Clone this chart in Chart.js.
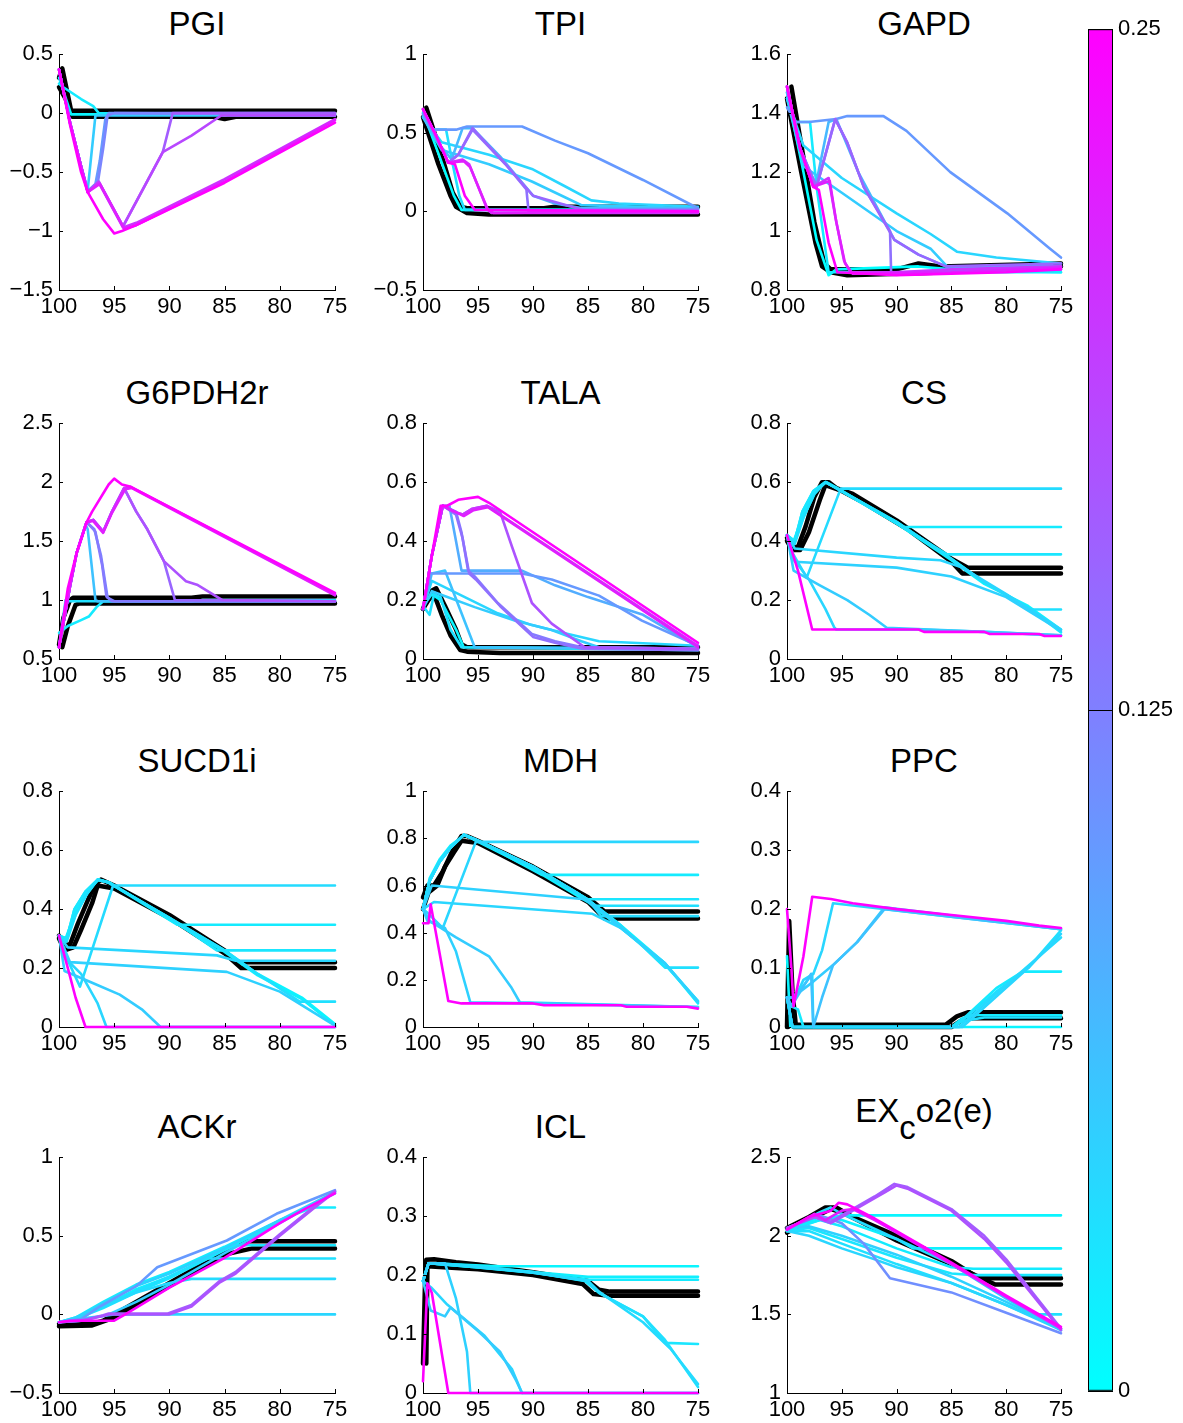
<!DOCTYPE html>
<html lang="en">
<head>
<meta charset="UTF-8">
<title>Flux profiles</title>
<script src="https://cdn.jsdelivr.net/npm/chart.js"></script>
<style>
  body {
    margin: 0;
    background: #fff;
    width: 1183px;
    height: 1423px;
    position: relative;
    overflow: hidden;
    font-family: 'Liberation Sans', Arial, Helvetica, sans-serif;
  }
  canvas { position: absolute; }
  .title {
    position: absolute;
    text-align: center;
    font-size: 33px;
    line-height: 38px;
    height: 38px;
    color: #000;
    white-space: nowrap;
  }
  .title sub { font-size: 33px; vertical-align: -17px; line-height: 0; }
</style>
</head>
<body>
<script>
// ---- data (c = colour value on the colour bar, null = reference run in black) ----
const xTicks = [100, 95, 90, 85, 80, 75];
const cbTicks = [0, 0.125, 0.25];
const panelTitles = ['PGI', 'TPI', 'GAPD', 'G6PDH2r', 'TALA', 'CS', 'SUCD1i', 'MDH', 'PPC', 'ACKr', 'ICL', 'EX_co2(e)'];
const yTickSets = [
  [-1.5, -1, -0.5, 0, 0.5],
  [-0.5, 0, 0.5, 1],
  [0.8, 1, 1.2, 1.4, 1.6],
  [0.5, 1, 1.5, 2, 2.5],
  [0, 0.2, 0.4, 0.6, 0.8],
  [0, 0.2, 0.4, 0.6, 0.8],
  [0, 0.2, 0.4, 0.6, 0.8],
  [0, 0.2, 0.4, 0.6, 0.8, 1],
  [0, 0.1, 0.2, 0.3, 0.4],
  [-0.5, 0, 0.5, 1],
  [0, 0.1, 0.2, 0.3, 0.4],
  [1, 1.5, 2, 2.5]
];

const pgiLines = [
  {c: null, p: [[100,0.3],[99.7,0.38],[98.9,0.02],[75,0.02]]},
  {c: null, p: [[100,0.22],[99.4,0.12],[98.8,-0.03],[86,-0.03],[85,-0.05],[84,-0.03],[75,-0.03]]},
  {c: 0.01, p: [[100,0.3],[98.9,-0.01],[75,-0.01]]},
  {c: 0.02, p: [[100,0.25],[99.6,0.22],[98,0.12],[96.9,0.06],[96.4,0.0],[88,-0.01],[75,-0.02]]},
  {c: 0.05, p: [[100,0.37],[99,-0.08],[98,-0.45],[97.4,-0.65],[96.7,-0.02],[75,-0.02]]},
  {c: 0.10, p: [[100,0.37],[99,-0.08],[98,-0.45],[97.4,-0.66],[96.7,-0.6],[96.3,-0.4],[95.8,-0.05],[95.5,0.0],[75,0.0]]},
  {c: 0.12, p: [[100,0.37],[99,-0.08],[98,-0.45],[97.4,-0.66],[96.5,-0.6],[96,-0.3],[95.6,-0.02],[95,0.0],[75,-0.01]]},
  {c: 0.16, p: [[100,0.37],[99,-0.08],[98,-0.45],[97.4,-0.67],[96.4,-0.58],[94.2,-0.96],[90.6,-0.33],[89.7,0.0],[75,0.0]]},
  {c: 0.18, p: [[100,0.37],[99,-0.08],[98,-0.45],[97.4,-0.67],[96.4,-0.58],[94.2,-0.96],[90.6,-0.33],[88,-0.19],[85.3,-0.02],[75,-0.02]]},
  {c: 0.20, p: [[100,0.37],[99,-0.08],[98,-0.45],[97.4,-0.67],[96.4,-0.59],[94.2,-0.97],[93,-0.93],[85,-0.56],[75,-0.05]]},
  {c: 0.22, p: [[100,0.37],[99,-0.08],[98,-0.45],[97.4,-0.67],[96.3,-0.6],[94.1,-0.98],[93,-0.95],[85,-0.58],[75,-0.06]]},
  {c: 0.25, p: [[100,0.37],[99,-0.1],[98,-0.5],[97.4,-0.67],[96,-0.9],[95,-1.02],[94.3,-1.0],[93,-0.95],[85,-0.59],[75,-0.08]]}
];

const tpiLines = [
  {c: null, p: [[99.7,0.66],[98.5,0.4],[97.3,0.12],[96.6,0.03],[96,0.02],[89,0.02],[88,0.03],[75,0.03]]},
  {c: null, p: [[100,0.6],[98.6,0.3],[97.5,0.1],[97,0.03],[96,-0.01],[94,-0.02],[75,-0.02]]},
  {c: 0.0, p: [[100,0.63],[98.5,0.35],[97.2,0.1],[96.5,0.01],[75,0.01]]},
  {c: 0.03, p: [[100,0.6],[99.2,0.52],[97.9,0.52],[97.3,0.3],[96.7,0.1],[96.2,0.01],[75,0.01]]},
  {c: 0.04, p: [[100,0.6],[98.3,0.44],[94,0.36],[90.1,0.27],[87.1,0.16],[84.7,0.07],[82.2,0.05],[75,0.03]]},
  {c: 0.05, p: [[100,0.6],[98.3,0.39],[94,0.3],[90.1,0.19],[87.1,0.09],[85.6,0.04],[75,0.02]]},
  {c: 0.07, p: [[100,0.62],[98.8,0.45],[97.4,0.33],[96.4,0.53],[95.5,0.53],[93,0.35],[90,0.1],[88,0.05],[85.5,0.02],[75,0.02]]},
  {c: 0.10, p: [[100,0.62],[99.2,0.52],[97,0.52],[96,0.54],[91,0.54],[88,0.45],[85,0.37],[80,0.2],[75,0.02]]},
  {c: 0.14, p: [[100,0.65],[98.8,0.48],[97.7,0.31],[96.8,0.36],[95.5,0.52],[92.5,0.3],[90.6,0.14],[90.4,0.0],[75,0.0]]},
  {c: 0.15, p: [[100,0.65],[98.8,0.48],[97.7,0.31],[96.8,0.36],[95.5,0.53],[92.5,0.3],[90,0.1],[88,0.06],[85.5,0.01],[75,0.01]]},
  {c: 0.20, p: [[100,0.65],[98.8,0.48],[97.7,0.31],[96.4,0.33],[95.8,0.3],[94.2,0.02],[93.8,-0.01],[75,-0.01]]},
  {c: 0.22, p: [[100,0.65],[98.8,0.48],[97.7,0.31],[96.3,0.32],[95.7,0.28],[94.1,0.01],[93.6,-0.01],[75,0.0]]},
  {c: 0.25, p: [[100,0.65],[98.8,0.48],[97.7,0.31],[97.1,0.3],[96.2,0.1],[95.3,0.01],[75,0.0]]}
];

const gapdLines = [
  {c: null, p: [[99.6,1.49],[98.5,1.25],[97.5,1.03],[96.6,0.89],[96,0.87],[90,0.87],[88,0.89],[86,0.88],[75,0.89]]},
  {c: null, p: [[100,1.45],[98.7,1.2],[97.4,0.96],[96.8,0.88],[96,0.86],[94.5,0.85],[85,0.86],[84,0.87],[75,0.88]]},
  {c: 0.0, p: [[100,1.47],[98.5,1.2],[97.3,0.97],[96.2,0.85],[95.5,0.87],[88,0.88],[85,0.87],[75,0.86]]},
  {c: 0.02, p: [[100,1.45],[99.2,1.37],[97.9,1.37],[97.3,1.15],[96.2,0.86],[75,0.86]]},
  {c: 0.04, p: [[100,1.45],[98.5,1.29],[95,1.18],[90,1.06],[86.9,0.99],[84.5,0.93],[80.9,0.91],[75,0.89]]},
  {c: 0.05, p: [[100,1.45],[98.5,1.22],[95,1.13],[90,1.0],[86.9,0.94],[85.4,0.88],[75,0.87]]},
  {c: 0.07, p: [[100,1.47],[98.8,1.28],[97.4,1.15],[96.2,1.37],[95.5,1.38],[93.5,1.2],[90.2,0.97],[88,0.92],[85.5,0.88],[75,0.88]]},
  {c: 0.10, p: [[100,1.42],[99.2,1.37],[98,1.37],[95.5,1.38],[94.5,1.39],[91.2,1.39],[89.1,1.34],[85.1,1.2],[79.9,1.06],[76,0.94],[75,0.91]]},
  {c: 0.14, p: [[100,1.49],[98.8,1.28],[97.3,1.15],[95.6,1.38],[94.5,1.3],[93,1.15],[90.6,1.0],[90.5,0.86],[75,0.87]]},
  {c: 0.15, p: [[100,1.49],[98.8,1.28],[97.3,1.15],[95.6,1.38],[94.5,1.3],[93,1.15],[90.2,0.97],[88,0.92],[85.5,0.88],[75,0.89]]},
  {c: 0.20, p: [[100,1.49],[98.8,1.28],[97.6,1.15],[96.2,1.18],[95.6,1.05],[94.8,0.9],[94.2,0.86],[90,0.86],[85,0.87],[75,0.88]]},
  {c: 0.22, p: [[100,1.49],[98.8,1.28],[97.6,1.15],[96.1,1.17],[95.5,1.03],[94.7,0.89],[94,0.855],[85,0.86],[75,0.875]]},
  {c: 0.25, p: [[100,1.49],[98.8,1.28],[97.6,1.15],[97.1,1.14],[96.2,0.96],[95.4,0.86],[90,0.85],[80,0.86],[75,0.87]]}
];

const g6pdhLines = [
  {c: null, p: [[100,0.62],[99.6,0.85],[99,1.0],[98.7,1.02],[88,1.02],[87,1.03],[75,1.03]]},
  {c: null, p: [[99.7,0.6],[99.2,0.78],[98.5,0.96],[98.2,0.97],[75,0.97]]},
  {c: 0.02, p: [[100,0.72],[99.2,0.78],[98,0.83],[97.3,0.86],[96.6,0.94],[96,0.99],[75,0.99]]},
  {c: 0.03, p: [[100,0.6],[99.4,1.0],[99.1,0.99],[88,0.99],[87,1.0],[75,1.0]]},
  {c: 0.06, p: [[100,0.6],[99,1.12],[98.4,1.4],[97.6,1.64],[97.4,1.6],[96.7,1.0],[96.5,0.99],[75,0.99]]},
  {c: 0.12, p: [[100,0.6],[99,1.12],[98.4,1.4],[97.5,1.66],[96.8,1.6],[96.2,1.38],[95.6,1.02],[95,0.99],[75,0.99]]},
  {c: 0.13, p: [[100,0.6],[99,1.12],[98.4,1.4],[97.5,1.66],[96.7,1.58],[96.1,1.3],[95.7,1.03],[95.2,0.99],[75,0.99]]},
  {c: 0.15, p: [[100,0.6],[99,1.12],[98.4,1.4],[97.5,1.66],[96.9,1.68],[96,1.58],[95.2,1.75],[94.1,1.95],[93,1.75],[92,1.6],[90.5,1.33],[89.5,1.0],[75,0.99]]},
  {c: 0.17, p: [[100,0.6],[99,1.12],[98.4,1.4],[97.5,1.66],[96.9,1.68],[96,1.58],[95.2,1.75],[94.1,1.95],[93,1.75],[92,1.6],[90.5,1.33],[88.5,1.16],[87.5,1.13],[85.2,1.0],[75,0.99]]},
  {c: 0.20, p: [[100,0.6],[99,1.12],[98.4,1.4],[97.5,1.66],[96.9,1.68],[96,1.58],[95.2,1.75],[94.1,1.95],[93.5,1.96],[75,1.05]]},
  {c: 0.22, p: [[100,0.6],[99,1.12],[98.4,1.4],[97.5,1.66],[96.9,1.67],[96,1.57],[95.2,1.74],[94,1.94],[93.4,1.95],[75,1.04]]},
  {c: 0.25, p: [[100,0.6],[99.2,1.1],[98.4,1.4],[97.5,1.66],[97,1.75],[95.5,1.98],[95,2.03],[94.3,1.98],[93.5,1.96],[75,1.06]]}
];

const talaLines = [
  {c: null, p: [[100,0.17],[99.3,0.23],[98.8,0.24],[98,0.18],[97,0.1],[96.5,0.05],[96,0.04],[75,0.04]]},
  {c: null, p: [[100,0.17],[99.5,0.2],[99,0.22],[98.3,0.15],[97.5,0.08],[96.6,0.03],[96,0.025],[93,0.02],[75,0.02]]},
  {c: 0.01, p: [[100,0.18],[99.2,0.22],[98.4,0.2],[97,0.1],[96.3,0.04],[75,0.035]]},
  {c: 0.03, p: [[100,0.18],[99.4,0.15],[99,0.22],[98.4,0.21],[97.5,0.1],[96.5,0.04],[75,0.03]]},
  {c: 0.04, p: [[100,0.17],[99.2,0.265],[96.2,0.21],[93.2,0.155],[90.1,0.115],[87.1,0.087],[84,0.06],[75,0.045]]},
  {c: 0.05, p: [[100,0.17],[99.2,0.23],[95.3,0.176],[91.6,0.13],[88.3,0.098],[85.6,0.06],[84,0.04],[75,0.035]]},
  {c: 0.06, p: [[100,0.17],[99.2,0.29],[98,0.3],[95.3,0.04],[75,0.035]]},
  {c: 0.08, p: [[100,0.17],[99.2,0.35],[98.2,0.52],[97.6,0.52],[96.5,0.3],[91,0.3],[88,0.25],[85,0.21],[80,0.15],[75,0.04]]},
  {c: 0.10, p: [[100,0.17],[99.3,0.29],[91,0.29],[88.3,0.27],[84,0.215],[80.1,0.13],[75,0.045]]},
  {c: 0.13, p: [[100,0.17],[99.2,0.35],[98.2,0.52],[97,0.5],[96.5,0.43],[95.9,0.3],[95.3,0.28],[93.2,0.19],[90.1,0.085],[88,0.06],[85.5,0.04],[75,0.035]]},
  {c: 0.14, p: [[100,0.17],[99.2,0.35],[98.2,0.52],[97,0.49],[96.4,0.41],[95.8,0.29],[95.2,0.27],[93,0.18],[90,0.075],[88,0.055],[85.5,0.035],[75,0.03]]},
  {c: 0.17, p: [[100,0.17],[99.2,0.35],[98.2,0.52],[97.2,0.5],[96.4,0.49],[95.5,0.51],[94.2,0.52],[93,0.5],[91.9,0.38],[90.1,0.19],[88.3,0.12],[85.3,0.04],[75,0.035]]},
  {c: 0.20, p: [[100,0.17],[99.2,0.35],[98.2,0.52],[97.2,0.5],[96.4,0.49],[95.5,0.51],[94.2,0.52],[75,0.045]]},
  {c: 0.22, p: [[100,0.17],[99.2,0.35],[98.2,0.52],[97.1,0.5],[96.3,0.485],[95.4,0.505],[94.1,0.515],[75,0.04]]},
  {c: 0.25, p: [[100,0.17],[99.2,0.35],[98.4,0.52],[97.8,0.52],[96.8,0.54],[95,0.55],[94,0.53],[75,0.055]]}
];

const csLines = [
  {c: null, p: [[100,0.41],[99.5,0.38],[99,0.38],[98.3,0.45],[97.5,0.55],[96.8,0.6],[96.2,0.6],[95.5,0.58],[94,0.56],[90,0.47],[85,0.34],[84,0.32],[83.5,0.31],[75,0.31]]},
  {c: null, p: [[100,0.4],[99.5,0.37],[98.8,0.37],[98,0.43],[97,0.54],[96.5,0.59],[95,0.57],[93,0.53],[89,0.44],[85,0.33],[84,0.29],[75,0.29]]},
  {c: 0.01, p: [[100,0.42],[99.4,0.39],[98.5,0.48],[97.5,0.56],[96.5,0.6],[95.5,0.58],[90,0.465],[85,0.34],[82,0.26],[78,0.175],[75,0.09]]},
  {c: 0.015, p: [[100,0.42],[99.4,0.4],[98.5,0.49],[97.5,0.57],[96.4,0.6],[95.4,0.58],[90,0.46],[85,0.335],[82,0.255],[78,0.18],[75,0.1]]},
  {c: 0.02, p: [[100,0.42],[99.3,0.4],[98.6,0.5],[97.6,0.57],[96.5,0.6],[95.5,0.58],[89.4,0.448],[75,0.448]]},
  {c: 0.025, p: [[100,0.42],[99.3,0.4],[98.6,0.5],[97.6,0.57],[96.5,0.6],[95.5,0.58],[90,0.46],[85.4,0.355],[75,0.355]]},
  {c: 0.03, p: [[100,0.42],[99.3,0.39],[98.5,0.48],[97.5,0.56],[96.5,0.6],[95.5,0.58],[90,0.465],[85,0.34],[82,0.26],[77.8,0.168],[75,0.168]]},
  {c: 0.035, p: [[100,0.42],[99.5,0.36],[98.2,0.276],[95.1,0.578],[75,0.578]]},
  {c: 0.04, p: [[100,0.42],[99.3,0.375],[90,0.344],[86,0.335],[84,0.31],[80,0.22],[75,0.1]]},
  {c: 0.045, p: [[100,0.42],[99.3,0.33],[90,0.31],[85,0.28],[80,0.21],[75,0.095]]},
  {c: 0.04, p: [[100,0.42],[99.6,0.35],[98,0.27],[96.5,0.17],[95.7,0.108],[95.5,0.1],[88,0.1],[82,0.092],[75,0.08]]},
  {c: 0.05, p: [[100,0.42],[99.4,0.3],[97,0.25],[94.5,0.2],[92.5,0.15],[90.9,0.106],[82,0.092],[75,0.08]]},
  {c: 0.25, p: [[100,0.42],[99,0.3],[97.7,0.1],[88,0.1],[87.5,0.092],[82,0.092],[81.5,0.085],[77,0.085],[76.5,0.078],[75,0.078]]}
];

const sucdLines = [
  {c: null, p: [[100,0.31],[99.5,0.28],[99,0.28],[98.3,0.35],[97.5,0.42],[96.8,0.48],[96.2,0.5],[95,0.48],[90,0.38],[85,0.26],[84,0.22],[75,0.22]]},
  {c: null, p: [[100,0.3],[99.5,0.26],[98.7,0.27],[98,0.33],[97,0.42],[96.5,0.48],[95,0.47],[90,0.37],[85,0.25],[83.5,0.2],[75,0.2]]},
  {c: 0.01, p: [[100,0.31],[99.4,0.29],[98.5,0.38],[97.5,0.45],[96.5,0.5],[95.5,0.49],[90,0.37],[85,0.26],[82,0.18],[78,0.1],[75,0.01]]},
  {c: 0.015, p: [[100,0.31],[99.4,0.3],[98.5,0.39],[97.5,0.46],[96.4,0.5],[95.4,0.49],[90,0.365],[85,0.255],[82,0.175],[78,0.095],[75,0.005]]},
  {c: 0.02, p: [[100,0.31],[99.3,0.3],[98.6,0.4],[97.6,0.46],[96.5,0.5],[95.5,0.49],[89.3,0.347],[75,0.347]]},
  {c: 0.025, p: [[100,0.31],[99.3,0.3],[98.6,0.4],[97.6,0.46],[96.5,0.5],[95.5,0.49],[90,0.37],[85.7,0.26],[75,0.26]]},
  {c: 0.03, p: [[100,0.31],[99.3,0.29],[98.5,0.38],[97.5,0.45],[96.5,0.5],[95.5,0.49],[90,0.37],[85,0.26],[82,0.18],[78.2,0.086],[75,0.086]]},
  {c: 0.035, p: [[100,0.31],[99.5,0.25],[98.1,0.137],[95.1,0.48],[75,0.48]]},
  {c: 0.04, p: [[100,0.31],[99.2,0.27],[85.7,0.243],[84,0.225],[75,0.225]]},
  {c: 0.045, p: [[100,0.31],[99,0.22],[84.8,0.187],[80,0.12],[75,0.005]]},
  {c: 0.04, p: [[100,0.31],[99.6,0.24],[98,0.18],[96.5,0.08],[95.7,0.0],[75,0.0]]},
  {c: 0.05, p: [[100,0.31],[99.5,0.19],[97,0.15],[94.5,0.11],[92.5,0.06],[90.8,0.0],[75,0.0]]},
  {c: 0.25, p: [[100,0.31],[99.2,0.2],[98.5,0.1],[97.6,0.0],[75,0.0]]}
];

const mdhLines = [
  {c: null, p: [[100,0.55],[99.6,0.6],[99,0.6],[98.2,0.66],[97.3,0.75],[96.5,0.81],[96,0.81],[95,0.79],[90,0.68],[85,0.55],[83.5,0.49],[75,0.49]]},
  {c: null, p: [[100,0.5],[99.5,0.57],[98.7,0.6],[98,0.68],[97.2,0.74],[96.5,0.79],[95,0.78],[90,0.66],[85,0.53],[83.5,0.46],[75,0.46]]},
  {c: 0.01, p: [[100,0.5],[99.4,0.62],[98.5,0.7],[97.5,0.76],[96.3,0.815],[95,0.79],[90,0.68],[85,0.54],[82,0.43],[78,0.27],[75,0.1]]},
  {c: 0.015, p: [[100,0.5],[99.4,0.63],[98.5,0.71],[97.5,0.77],[96.2,0.815],[95,0.785],[90,0.67],[85,0.53],[82,0.42],[78,0.265],[75,0.11]]},
  {c: 0.02, p: [[100,0.5],[99.4,0.62],[98.5,0.7],[97.5,0.76],[96.3,0.815],[95,0.79],[89.2,0.645],[75,0.645]]},
  {c: 0.025, p: [[100,0.5],[99.4,0.62],[98.5,0.7],[97.5,0.76],[96.3,0.815],[95,0.79],[90,0.68],[86,0.57],[85.2,0.542],[75,0.542]]},
  {c: 0.03, p: [[100,0.5],[99.4,0.62],[98.5,0.7],[97.5,0.76],[96.3,0.815],[95,0.79],[90,0.68],[85,0.54],[84.3,0.514],[75,0.514]]},
  {c: 0.035, p: [[100,0.5],[99.4,0.62],[98.5,0.7],[97.5,0.76],[96.3,0.815],[95,0.79],[90,0.68],[85,0.54],[83.8,0.47],[75,0.47]]},
  {c: 0.03, p: [[100,0.5],[99.4,0.62],[98.5,0.7],[97.5,0.76],[96.3,0.815],[95,0.79],[90,0.68],[85,0.54],[82,0.43],[78,0.252],[75,0.252]]},
  {c: 0.04, p: [[100,0.5],[99.5,0.48],[98.2,0.42],[95.2,0.785],[75,0.785]]},
  {c: 0.045, p: [[100,0.5],[99.2,0.6],[85.3,0.542],[84,0.5],[82,0.42],[78,0.27],[75,0.105]]},
  {c: 0.04, p: [[100,0.5],[99,0.53],[84.6,0.48],[82,0.42],[78,0.27],[75,0.11]]},
  {c: 0.045, p: [[100,0.5],[99.6,0.45],[98,0.42],[97,0.32],[95.7,0.105],[90,0.1],[75,0.085]]},
  {c: 0.05, p: [[100,0.5],[99.4,0.45],[97,0.38],[94,0.3],[92,0.17],[91.2,0.105],[75,0.085]]},
  {c: 0.25, p: [[100,0.44],[99.5,0.44],[99.3,0.52],[97.7,0.11],[96.5,0.1],[90,0.1],[89,0.092],[82,0.092],[81.5,0.086],[76,0.086],[75,0.078]]}
];

const ppcLines = [
  {c: null, p: [[100,0.0],[99.8,0.18],[99.5,0.06],[99.2,0.004],[85.5,0.004],[84.5,0.018],[83.5,0.025],[75,0.025]]},
  {c: null, p: [[99.9,0.0],[99.7,0.1],[99.4,0.0],[85,0.0],[84,0.012],[83,0.015],[75,0.015]]},
  {c: 0.01, p: [[100,0.12],[99.7,0.0],[75,0.0]]},
  {c: 0.02, p: [[100,0.05],[99.6,0.035],[99,0.03],[98.5,0.0],[85,0.0],[84,0.015],[83,0.02],[75,0.02]]},
  {c: 0.03, p: [[100,0.05],[99.5,0.05],[98.5,0.07],[97.7,0.09],[97.6,0.0],[85,0.0],[84,0.01],[82,0.016],[75,0.016]]},
  {c: 0.04, p: [[100,0.05],[99.6,0.035],[98.5,0.08],[97.6,0.09],[96.8,0.13],[95.8,0.21],[75,0.166]]},
  {c: 0.05, p: [[100,0.05],[99.5,0.05],[97.6,0.077],[95.8,0.105],[93.6,0.144],[91.1,0.203],[75,0.166]]},
  {c: 0.06, p: [[100,0.05],[99.6,0.035],[97.8,0.09],[97.6,0.0],[96.8,0.05],[95.8,0.105],[93.6,0.144],[91.1,0.2],[75,0.166]]},
  {c: 0.02, p: [[100,0.05],[99.5,0.0],[85,0.0],[84.5,0.004],[80.9,0.066],[78.5,0.094],[75,0.094]]},
  {c: 0.03, p: [[100,0.05],[99.5,0.0],[85,0.0],[84.5,0.004],[80.9,0.06],[78,0.1],[75,0.164]]},
  {c: 0.035, p: [[100,0.05],[99.5,0.0],[85,0.0],[84.3,0.0],[81,0.055],[77.9,0.105],[75,0.152]]},
  {c: 0.04, p: [[100,0.05],[99.5,0.0],[84,0.0],[81,0.05],[78,0.1],[75,0.158]]},
  {c: 0.25, p: [[100,0.2],[99.6,0.1],[99.4,0.035],[98.5,0.12],[97.7,0.221],[96,0.217],[94,0.21],[90,0.2],[85,0.19],[80,0.18],[77,0.172],[75,0.168]]}
];

const ackLines = [
  {c: null, p: [[100,-0.06],[97,-0.06],[96,-0.04],[95,0.0],[90,0.2],[85,0.4],[83.5,0.465],[75,0.465]]},
  {c: null, p: [[100,-0.075],[97,-0.07],[95,-0.02],[90,0.18],[85,0.38],[82.5,0.42],[75,0.42]]},
  {c: 0.01, p: [[100,-0.05],[98.5,-0.03],[96,0.05],[93,0.16],[90,0.24],[85,0.41],[80,0.59],[75,0.77]]},
  {c: 0.02, p: [[100,-0.05],[98.5,-0.02],[96,0.08],[93,0.19],[90,0.27],[85,0.43],[80,0.6],[77,0.68],[75,0.68]]},
  {c: 0.025, p: [[100,-0.05],[98.5,-0.03],[96,0.04],[93,0.14],[90,0.23],[85,0.41],[84,0.44],[75,0.44]]},
  {c: 0.03, p: [[100,-0.05],[98.5,-0.03],[96,0.05],[93,0.15],[90,0.24],[86.5,0.356],[75,0.356]]},
  {c: 0.035, p: [[100,-0.05],[98.5,-0.02],[96,0.05],[93,0.14],[90,0.2],[88,0.226],[75,0.226]]},
  {c: 0.04, p: [[100,-0.05],[98.5,-0.03],[96,-0.01],[95,0.0],[75,0.0]]},
  {c: 0.045, p: [[100,-0.05],[98.5,-0.025],[96,0.07],[93,0.18],[90,0.26],[85,0.42],[80,0.6],[75,0.78]]},
  {c: 0.05, p: [[100,-0.05],[98,-0.04],[95.5,0.0],[93,0.08],[90,0.19],[85,0.39],[80,0.58],[75,0.78]]},
  {c: 0.10, p: [[100,-0.05],[98,-0.03],[96.3,0.05],[93,0.18],[91.1,0.3],[84.8,0.47],[80.3,0.64],[75,0.79]]},
  {c: 0.16, p: [[100,-0.05],[98,-0.04],[96,-0.005],[95.5,0.005],[90.2,0.005],[88,0.06],[85.5,0.21],[84,0.27],[80,0.51],[77,0.68],[75,0.785]]},
  {c: 0.17, p: [[100,-0.05],[98,-0.04],[96,-0.01],[95.5,0.0],[90,0.0],[88,0.05],[85.5,0.2],[84,0.26],[80,0.5],[77,0.67],[75,0.78]]},
  {c: 0.25, p: [[100,-0.05],[99,-0.04],[95,-0.04],[94,0.0],[90,0.17],[85,0.36],[80,0.58],[78,0.66],[75,0.77]]}
];

const iclLines = [
  {c: null, p: [[100,0.05],[99.8,0.2],[99.7,0.226],[99,0.227],[97,0.222],[95,0.218],[90,0.205],[85,0.19],[84,0.175],[83,0.172],[75,0.172]]},
  {c: null, p: [[99.7,0.05],[99.6,0.215],[97,0.212],[95,0.21],[90,0.2],[85.5,0.185],[84.5,0.168],[83,0.165],[75,0.165]]},
  {c: 0.01, p: [[100,0.19],[99.5,0.22],[93,0.215],[75,0.215]]},
  {c: 0.015, p: [[100,0.19],[99.5,0.22],[95,0.213],[90,0.205],[85,0.197],[75,0.197]]},
  {c: 0.02, p: [[100,0.19],[99.5,0.22],[95,0.213],[90,0.204],[85,0.192],[75,0.192]]},
  {c: 0.025, p: [[100,0.19],[99.5,0.22],[95,0.214],[90,0.205],[85.3,0.19],[84,0.17],[80,0.13],[78,0.085],[75,0.083]]},
  {c: 0.03, p: [[100,0.19],[99.5,0.22],[98.5,0.22],[95,0.215],[90,0.205],[85,0.19],[84,0.17],[80,0.13],[78,0.09],[75,0.01]]},
  {c: 0.035, p: [[100,0.19],[99.5,0.22],[95,0.214],[90,0.204],[85,0.19],[84,0.172],[80,0.12],[77.5,0.075],[75,0.015]]},
  {c: 0.04, p: [[100,0.19],[99.2,0.178],[97.8,0.15],[94.4,0.097],[91.9,0.04],[91,0.0],[75,0.0]]},
  {c: 0.045, p: [[100,0.19],[99.5,0.22],[98,0.22],[97,0.16],[96,0.07],[95.7,0.0],[75,0.0]]},
  {c: 0.05, p: [[100,0.19],[99.3,0.14],[98,0.13],[97.5,0.145],[95,0.105],[93,0.07],[91.5,0.02],[91,0.0]]},
  {c: 0.25, p: [[100,0.02],[99.6,0.186],[99.2,0.17],[97.7,0.0],[75,0.0]]}
];

const co2Lines = [
  {c: null, p: [[100,2.05],[98,2.12],[96.5,2.18],[95.5,2.18],[94,2.12],[90,2.0],[85,1.84],[82.5,1.73],[75,1.73]]},
  {c: null, p: [[100,2.02],[98,2.1],[96,2.17],[95,2.15],[93,2.08],[90,1.97],[85,1.82],[81,1.69],[75,1.69]]},
  {c: 0.01, p: [[100,2.04],[97,2.1],[95,2.13],[75,2.13]]},
  {c: 0.015, p: [[100,2.04],[97,2.12],[95,2.1],[90,1.98],[88.5,1.92],[75,1.92]]},
  {c: 0.02, p: [[100,2.03],[97,2.1],[95,2.06],[90,1.92],[85,1.8],[83,1.79],[75,1.79]]},
  {c: 0.025, p: [[100,2.03],[98,2.05],[95,1.98],[90,1.86],[85,1.76],[83,1.75],[75,1.75]]},
  {c: 0.03, p: [[100,2.03],[98,2.03],[95,1.95],[90,1.82],[85,1.7],[80,1.56],[78,1.5],[75,1.5]]},
  {c: 0.035, p: [[100,2.04],[97,2.15],[96,2.18],[95,2.14],[90,1.98],[85,1.82],[80,1.6],[75,1.4]]},
  {c: 0.04, p: [[100,2.03],[98,2.0],[95,1.92],[92,1.85],[90,1.8],[85,1.7],[80,1.56],[75,1.4]]},
  {c: 0.045, p: [[100,2.05],[98,2.06],[95,2.0],[90,1.88],[85,1.74],[80,1.58],[75,1.41]]},
  {c: 0.11, p: [[100,2.05],[97,2.13],[95,2.08],[93,1.95],[90.6,1.73],[85,1.64],[80,1.51],[75,1.38]]},
  {c: 0.16, p: [[100,2.05],[97.5,2.12],[96,2.09],[94.5,2.15],[92,2.25],[90.2,2.33],[89,2.31],[85,2.17],[82,2.0],[80,1.85],[75,1.41]]},
  {c: 0.17, p: [[100,2.05],[97.5,2.12],[96,2.08],[94.5,2.14],[92,2.24],[91,2.28],[90,2.32],[89,2.3],[85,2.16],[82,1.98],[80,1.83],[75,1.4]]},
  {c: 0.22, p: [[100,2.04],[97.5,2.14],[96.5,2.1],[95,2.16],[94,2.17],[92,2.1],[90,2.02],[85,1.82],[80,1.61],[75,1.41]]},
  {c: 0.25, p: [[100,2.04],[98,2.12],[96,2.16],[95.3,2.21],[94.5,2.2],[92,2.11],[90,2.03],[85,1.83],[80,1.62],[75,1.42]]}
];

const panelLines = [pgiLines, tpiLines, gapdLines, g6pdhLines, talaLines, csLines,
                    sucdLines, mdhLines, ppcLines, ackLines, iclLines, co2Lines];

// ---- layout ----
const colLeft = [59, 423, 787];
const colWidth = [276, 275, 274];
const rowTop = [51, 420, 788, 1154];
const plotH = 239;
const padL = 62, padR = 26, padT = 16, axisH = 36;
const tickFont = { family: "'Liberation Sans', Arial, sans-serif", size: 22 };

// MATLAB "cool" map over the 0..0.25 colour bar
function coolColor(c) {
  const t = Math.max(0, Math.min(1, c / cbTicks[cbTicks.length - 1]));
  return `rgb(${Math.round(255 * t)},${Math.round(255 * (1 - t))},255)`;
}

function fmt(v) {
  return (v < 0 ? '\u2212' : '') + Math.abs(v);
}

// small inward tick marks like the original axes
const inTicks = {
  id: 'inTicks',
  afterDraw(chart) {
    const { ctx, chartArea: a, scales: { x, y } } = chart;
    ctx.save();
    ctx.strokeStyle = '#000';
    ctx.lineWidth = 1;
    ctx.beginPath();
    y.ticks.forEach(t => {
      const py = Math.round(y.getPixelForValue(t.value)) + 0.5;
      ctx.moveTo(a.left, py); ctx.lineTo(a.left + 4, py);
    });
    x.ticks.forEach(t => {
      const px = Math.round(x.getPixelForValue(t.value)) + 0.5;
      ctx.moveTo(px, a.bottom); ctx.lineTo(px, a.bottom - 4);
    });
    ctx.stroke();
    ctx.restore();
  }
};

panelTitles.forEach((title, i) => {
  const col = i % 3, row = Math.floor(i / 3);
  const left = colLeft[col], top = rowTop[row], w = colWidth[col];

  // title
  const t = document.createElement('div');
  t.className = 'title';
  t.style.left = left + 'px';
  t.style.width = w + 'px';
  if (title.includes('_')) {
    const [head, rest] = title.split('_');
    t.innerHTML = head + '<sub>' + rest[0] + '</sub>' + rest.slice(1);
    t.style.top = (top - 62) + 'px';
  } else {
    t.textContent = title;
    t.style.top = (top - 46) + 'px';
  }
  document.body.appendChild(t);

  const cv = document.createElement('canvas');
  cv.width = padL + w + padR;
  cv.height = padT + plotH + axisH;
  cv.style.left = (left - padL) + 'px';
  cv.style.top = (top - padT) + 'px';
  document.body.appendChild(cv);

  // black reference runs at the bottom, then colours in increasing order
  const lines = panelLines[i].slice().sort((a, b) => (a.c === null ? -1 : a.c) - (b.c === null ? -1 : b.c));
  const n = lines.length;
  const datasets = lines.map((l, k) => ({
    data: l.p.map(([x, y]) => ({ x, y })),
    borderColor: l.c === null ? '#000' : coolColor(l.c),
    borderWidth: l.c === null ? 4.5 : 2.6,
    pointRadius: 0,
    tension: 0,
    fill: false,
    clip: false,
    borderJoinStyle: 'round',
    borderCapStyle: 'round',
    order: n - k
  }));

  const yt = yTickSets[i];
  new Chart(cv, {
    type: 'line',
    data: { datasets },
    options: {
      responsive: false,
      animation: false,
      events: [],
      layout: { padding: { left: 0, right: padR, top: padT, bottom: 0 } },
      plugins: { legend: { display: false }, tooltip: { enabled: false } },
      scales: {
        x: {
          type: 'linear',
          reverse: true,
          min: xTicks[xTicks.length - 1],
          max: xTicks[0],
          grid: { display: false, drawTicks: false },
          border: { display: true, color: '#000', width: 1 },
          ticks: { font: tickFont, color: '#000', padding: 4, maxRotation: 0, autoSkip: false, callback: fmt },
          afterBuildTicks: s => { s.ticks = xTicks.map(v => ({ value: v })); },
          afterFit: s => { s.height = axisH; }
        },
        y: {
          min: yt[0],
          max: yt[yt.length - 1],
          grid: { display: false, drawTicks: false },
          border: { display: true, color: '#000', width: 1 },
          ticks: { font: tickFont, color: '#000', padding: 6, autoSkip: false, callback: fmt },
          afterBuildTicks: s => { s.ticks = yt.map(v => ({ value: v })); },
          afterFit: s => { s.width = padL; }
        }
      }
    },
    plugins: [inTicks]
  });
});

// ---- colour bar ----
const cbLeft = 1088, cbTop = 27, cbW = 25, cbH = 1366, cbPad = 16, cbAxis = 70;
const cbCanvas = document.createElement('canvas');
cbCanvas.width = cbW + cbAxis;
cbCanvas.height = cbH + 2 * cbPad;
cbCanvas.style.left = cbLeft + 'px';
cbCanvas.style.top = (cbTop - cbPad) + 'px';
document.body.appendChild(cbCanvas);

const cbFrame = {
  id: 'cbFrame',
  afterDraw(chart) {
    const { ctx, chartArea: a, scales: { y } } = chart;
    ctx.save();
    ctx.strokeStyle = '#000';
    ctx.lineWidth = 1;
    ctx.strokeRect(a.left + 0.5, a.top + 0.5, a.right - a.left - 1, a.bottom - a.top - 1);
    ctx.beginPath();
    cbTicks.forEach(v => {
      const py = Math.round(y.getPixelForValue(v)) + 0.5;
      ctx.moveTo(a.left, py); ctx.lineTo(a.right, py);
    });
    ctx.stroke();
    ctx.restore();
  }
};

new Chart(cbCanvas, {
  type: 'bar',
  data: {
    labels: [''],
    datasets: [{
      data: [cbTicks[cbTicks.length - 1]],
      backgroundColor: ctx => {
        const a = ctx.chart.chartArea;
        if (!a) return coolColor(0);
        const g = ctx.chart.ctx.createLinearGradient(0, a.bottom, 0, a.top);
        g.addColorStop(0, coolColor(cbTicks[0]));
        g.addColorStop(1, coolColor(cbTicks[cbTicks.length - 1]));
        return g;
      },
      borderWidth: 0,
      barPercentage: 1,
      categoryPercentage: 1
    }]
  },
  options: {
    responsive: false,
    animation: false,
    events: [],
    layout: { padding: { left: 0, right: 0, top: cbPad, bottom: cbPad } },
    plugins: { legend: { display: false }, tooltip: { enabled: false } },
    scales: {
      x: { display: false },
      y: {
        position: 'right',
        min: cbTicks[0],
        max: cbTicks[cbTicks.length - 1],
        grid: { display: false, drawTicks: false },
        border: { display: false },
        ticks: { font: tickFont, color: '#000', padding: 5, autoSkip: false, callback: v => String(v) },
        afterBuildTicks: s => { s.ticks = cbTicks.map(v => ({ value: v })); },
        afterFit: s => { s.width = cbAxis; }
      }
    }
  },
  plugins: [cbFrame]
});
</script>
</body>
</html>
